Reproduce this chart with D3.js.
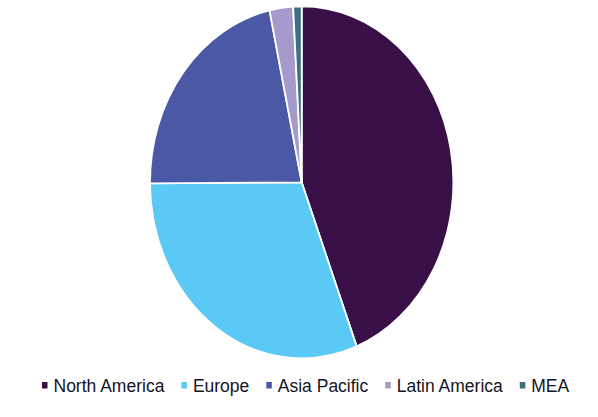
<!DOCTYPE html>
<html>
<head>
<meta charset="utf-8">
<script src="https://cdn.jsdelivr.net/npm/d3@7"></script>
<style>
  html, body { margin: 0; padding: 0; background: #fff; }
  svg { display: block; }
</style>
</head>
<body>
<svg id="chart" width="598" height="417"></svg>
<script>
const regions = ["North America", "Europe", "Asia Pacific", "Latin America", "MEA"];
const shares = [44.1, 30.8, 21.7, 2.5, 0.9];
const colors = ["#380f47", "#5bc9f6", "#4a58a5", "#a699cc", "#3e6f80"];

const svg = d3.select("#chart");
const cx = 301.7, cy = 182.3, rx = 151.7, ry = 176;

const data = regions.map((r, i) => ({ region: r, value: shares[i], color: colors[i] }));
const pie = d3.pie().value(d => d.value).sort(null);
const arc = d3.arc().innerRadius(0).outerRadius(ry);

const g = svg.append("g")
  .attr("transform", `translate(${cx},${cy}) scale(${rx / ry},1)`);

g.selectAll("path")
  .data(pie(data))
  .join("path")
  .attr("d", arc)
  .attr("fill", d => d.data.color)
  .attr("stroke", "#fff")
  .attr("stroke-width", 1.8)
  .attr("vector-effect", "non-scaling-stroke");

// legend
const legend = svg.append("g").attr("class", "legend");
let x = 42;
const gap = 17;
data.forEach(d => {
  const item = legend.append("g");
  item.append("rect")
    .attr("x", x).attr("y", 382)
    .attr("width", 5.5).attr("height", 6.5)
    .attr("fill", d.color);
  const t = item.append("text")
    .attr("x", x + 11.5).attr("y", 392)
    .attr("font-family", "Arial, 'Liberation Sans', sans-serif")
    .attr("font-size", 17.5)
    .attr("fill", "#141424")
    .text(d.region);
  const w = t.node().getComputedTextLength();
  x = x + 11.5 + w + gap;
});
</script>
</body>
</html>
